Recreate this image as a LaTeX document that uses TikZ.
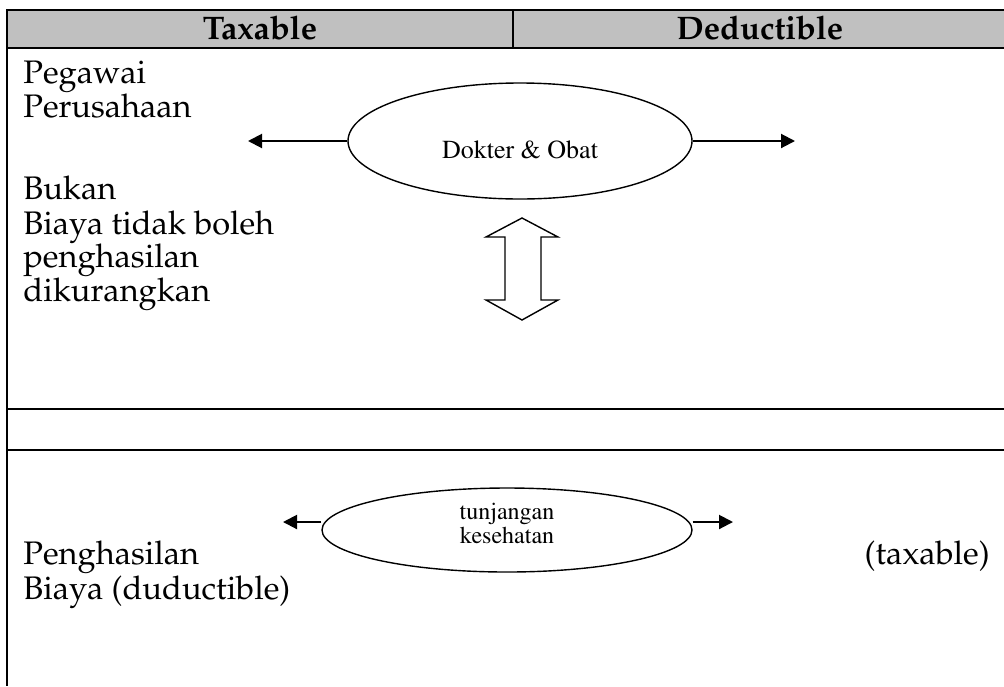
\documentclass[tikz,border=0pt]{standalone}
\usepackage[T1]{fontenc}
\usepackage{mathpazo}
\usepackage{xcolor}
\usepackage{tikz}
\usetikzlibrary{arrows.meta, shapes.geometric}

\definecolor{headgray}{HTML}{C0C0C0}
\newcommand{\bodysize}{\fontsize{16.3}{18}\selectfont}
\newcommand{\ovalfont}{\fontfamily{ptm}\selectfont}

\begin{document}
\begin{tikzpicture}[x=0.5pt, y=-0.5pt,
  txt/.style={anchor=base west, inner sep=0pt, font=\bodysize},
  oval/.style={draw, ellipse, line width=0.7pt, inner sep=0pt},
  outarrow/.style={-{Triangle[length=7pt,width=7pt]}, line width=1pt}]
\useasboundingbox (0,0) rectangle (1004,686);

% header row
\fill[headgray] (7,10) rectangle (1004,48);
\draw[line width=1pt] (1004,10) -- (7,10) -- (7,686);
\draw[line width=1pt] (7,48) -- (1004,48);
\draw[line width=0.6pt] (513,10) -- (513,48);
\node[anchor=base, inner sep=0pt, font=\bodysize\bfseries] (taxable) at (260,39) {Taxable};
\node[anchor=base, inner sep=0pt, font=\bodysize\bfseries] (deductible) at (760,39) {Deductible};

% upper part
\node[txt] (pegawai) at (23,83) {Pegawai};
\node[txt] (perusahaan) at (23,117) {Perusahaan};
\node[txt] (bukan) at (23,199) {Bukan};
\node[txt] (biaya) at (23,234) {Biaya tidak boleh};
\node[txt] (penghasilan) at (23,267) {penghasilan};
\node[txt] (dikurangkan) at (23,301) {dikurangkan};

\node[oval, minimum width=172pt, minimum height=58pt] (dokter) at (520,141) {};
\node[font=\ovalfont\fontsize{13}{15}\selectfont, inner sep=0pt] (dokterlbl) at ([yshift=-4.5pt]dokter.center) {Dokter \& Obat};
\coordinate (dokL) at (248,141);
\coordinate (dokR) at (795,141);
\draw[outarrow] (dokter.west) -- (dokL);
\draw[outarrow] (dokter.east) -- (dokR);

% double arrow
\draw[line width=0.7pt, fill=white] (522,218) -- (558,237) -- (541,237) -- (541,300) -- (558,300)
  -- (522,320) -- (486,300) -- (505,300) -- (505,237) -- (486,237) -- cycle;

% separator rows
\draw[line width=1pt] (7,409) -- (1004,409);
\draw[line width=1pt] (7,450) -- (1004,450);

% lower part
\node[oval, minimum width=185pt, minimum height=42pt] (tunjangan) at (507,530) {};
\node[font=\ovalfont\fontsize{12}{12}\selectfont, align=center, inner sep=0pt] (tunjanganlbl)
  at ([yshift=3.5pt]tunjangan.center) {tunjangan\\kesehatan};
\coordinate (tunL) at (283,522);
\coordinate (tunR) at (733,522);
\draw[outarrow] (tunjangan.west |- tunL) -- (tunL);
\draw[outarrow] (tunjangan.east |- tunR) -- (tunR);

\node[txt] (penghasilan2) at (23,564) {Penghasilan};
\node[txt] (biaya2) at (23,599) {Biaya (duductible)};
\node[txt, anchor=base east] (taxable2) at (990,564) {(taxable)};
\end{tikzpicture}
\end{document}
